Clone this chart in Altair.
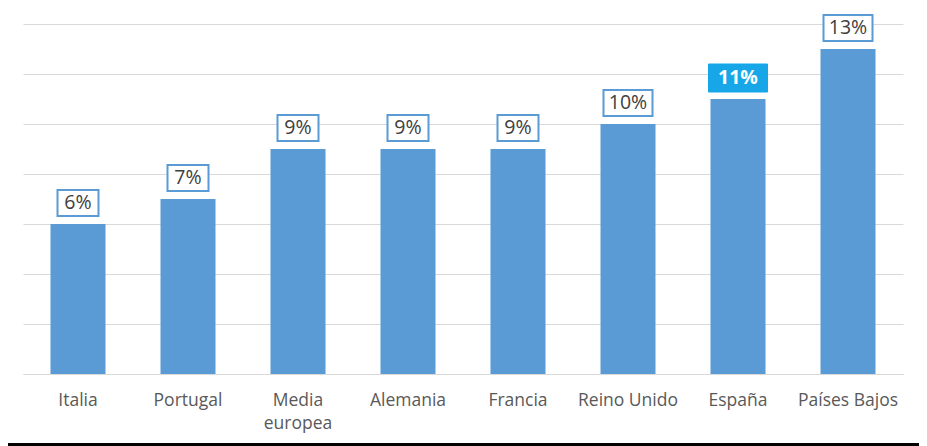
import altair as alt
import pandas as pd

countries = ["Italia", "Portugal", "Media europea", "Alemania", "Francia",
             "Reino Unido", "España", "Países Bajos"]
values = [6, 7, 9, 9, 9, 10, 11, 13]
highlight = "España"
y_ticks = [0, 2, 4, 6, 8, 10, 12, 14]

df = pd.DataFrame({"pais": countries, "valor": values})
df["etiqueta"] = df["valor"].astype(str) + "%"

BAR = "#5B9BD5"
HL = "#17A6E8"
FONT = "Open Sans"

base = alt.Chart(df).encode(
    x=alt.X("pais:N", sort=countries,
            scale=alt.Scale(paddingInner=0.5, paddingOuter=0.25),
            axis=alt.Axis(title=None, labelAngle=0, ticks=False,
                          domainColor="#d9d9d9", domainWidth=1,
                          labelColor="#595959", labelFont=FONT,
                          labelFontSize=17.5, labelPadding=17,
                          labelLineHeight=23,
                          labelExpr="datum.label == 'Media europea' ? ['Media', 'europea'] : datum.label")),
)

yenc = alt.Y("valor:Q", scale=alt.Scale(domain=[0, 14]),
             axis=alt.Axis(values=y_ticks, grid=True, gridColor="#d9d9d9",
                           gridWidth=1, labels=False, ticks=False,
                           domain=False, title=None))

bars = base.mark_bar(color=BAR).encode(y=yenc)

not_hl = f"datum.pais != '{highlight}'"
box_short = base.mark_bar(width=41, yOffset=-34, y2Offset=-8, fill="white",
                          stroke=BAR, strokeWidth=2).encode(
    y="valor:Q", y2="valor:Q").transform_filter(
    f"{not_hl} && length(datum.etiqueta) == 2")
box_long = base.mark_bar(width=49, yOffset=-34, y2Offset=-8, fill="white",
                         stroke=BAR, strokeWidth=2).encode(
    y="valor:Q", y2="valor:Q").transform_filter(
    f"{not_hl} && length(datum.etiqueta) == 3")
box_hl = base.mark_bar(width=59, yOffset=-35, y2Offset=-7, fill=HL,
                       stroke=HL, strokeWidth=1).encode(
    y="valor:Q", y2="valor:Q").transform_filter(f"datum.pais == '{highlight}'")

text_reg = base.mark_text(font=FONT, fontSize=19.5, color="#404040",
                          baseline="middle", dy=-21).encode(
    y="valor:Q", text="etiqueta:N").transform_filter(not_hl)
text_hl = base.mark_text(font=FONT, fontSize=19.5, fontWeight="bold",
                         color="white", baseline="middle", dy=-21).encode(
    y="valor:Q", text="etiqueta:N").transform_filter(f"datum.pais == '{highlight}'")

frame = alt.Chart(df).mark_rule(color="black", strokeWidth=2).encode(
    x=alt.value(-15), x2=alt.value(904), y=alt.value(420.5))

chart = alt.layer(bars, box_short, box_long, box_hl, text_reg, text_hl, frame).properties(
    width=880, height=350,
    autosize=alt.AutoSizeParams(type="none"),
    padding={"left": 15, "top": 16, "right": 16, "bottom": 72},
).configure_view(strokeWidth=0)

chart.save("out.html", embed_options={"renderer": "svg", "actions": False})
